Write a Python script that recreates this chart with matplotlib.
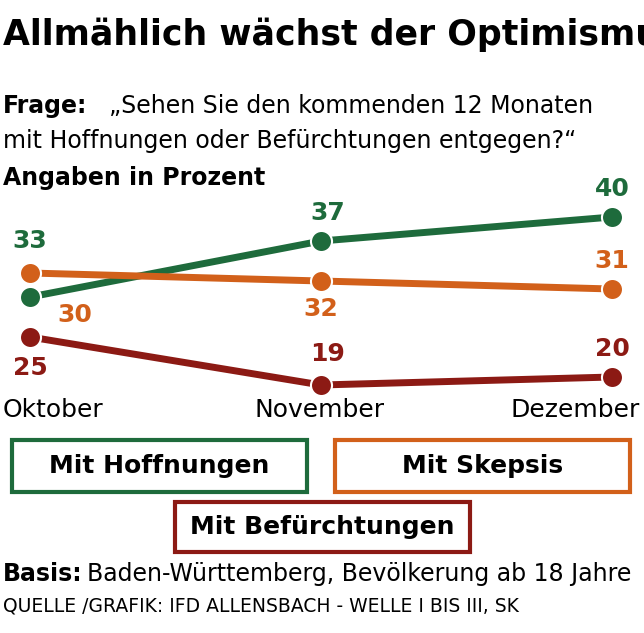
import matplotlib
matplotlib.use("Agg")
import matplotlib.pyplot as plt
from matplotlib.patches import Rectangle

months = ["Oktober", "November", "Dezember"]
hoffnung = [30, 37, 40]
skepsis = [33, 32, 31]
befuerchtung = [25, 19, 20]
hoffnung_labels = ["33", "37", "40"]
skepsis_labels = ["30", "32", "31"]
befuerchtung_labels = ["25", "19", "20"]

W, H = 644, 633
fig = plt.figure(figsize=(W/100, H/100), dpi=100)
ax = fig.add_axes([0, 1-400/H, 1, 210/H])
ax.set_xlim(-30/291, 2+32/291)
ax.set_ylim(30-103/8, 30+107/8)
ax.axis("off")

green, orange, red = "#1e6b3c", "#d2601a", "#8c1a14"
x = [0, 1, 2]
for vals, c in [(hoffnung, green), (skepsis, orange), (befuerchtung, red)]:
    ax.plot(x, vals, color=c, lw=5, zorder=1)
    ax.scatter(x, vals, s=230, color=c, edgecolor="white", linewidth=1.5, zorder=2)

fs = 18
def lab(xi, v, t, c, dx=0, dy=0):
    ax.annotate(t, (xi, v), xytext=(dx, dy), textcoords="offset points",
                ha="center", va="center", fontsize=fs, fontweight="bold", color=c)
lab(0, hoffnung[0], hoffnung_labels[0], green, 0, 40)
lab(1, hoffnung[1], hoffnung_labels[1], green, 5, 20)
lab(2, hoffnung[2], hoffnung_labels[2], green, 0, 20)
lab(0, skepsis[0], skepsis_labels[0], orange, 32, -30)
lab(1, skepsis[1], skepsis_labels[1], orange, 0, -20)
lab(2, skepsis[2], skepsis_labels[2], orange, 0, 20)
lab(0, befuerchtung[0], befuerchtung_labels[0], red, 0, -22)
lab(1, befuerchtung[1], befuerchtung_labels[1], red, 5, 22)
lab(2, befuerchtung[2], befuerchtung_labels[2], red, 0, 20)

for m, xx, ha in zip(months, [3, 320, 640], ["left", "center", "right"]):
    fig.text(xx/W, 1-410/H, m, fontsize=18, va="center", ha=ha)

fig.text(0.005, 1-35/H, "Allmählich wächst der Optimismus", fontsize=25,
         fontweight="bold", va="center")
fig.text(0.005, 1-106/H, "Frage:", fontsize=17, fontweight="bold", va="center")
fig.text(0.17, 1-106/H, "„Sehen Sie den kommenden 12 Monaten", fontsize=17, va="center")
fig.text(0.005, 1-141/H, "mit Hoffnungen oder Befürchtungen entgegen?“", fontsize=17, va="center")
fig.text(0.005, 1-178/H, "Angaben in Prozent", fontsize=17, fontweight="bold", va="center")

def box(x0, y0, x1, y1, c, t):
    fig.patches.append(Rectangle((x0/W, 1-y1/H), (x1-x0)/W, (y1-y0)/H,
                                 transform=fig.transFigure, fill=False, ec=c, lw=3))
    fig.text((x0+x1)/2/W, 1-(y0+y1)/2/H, t, fontsize=18, fontweight="bold",
             ha="center", va="center")
box(12, 440, 307, 492, green, "Mit Hoffnungen")
box(335, 440, 630, 492, orange, "Mit Skepsis")
box(175, 502, 470, 552, red, "Mit Befürchtungen")

fig.text(0.005, 1-574/H, "Basis:", fontsize=17, fontweight="bold", va="center")
fig.text(0.135, 1-574/H, "Baden-Württemberg, Bevölkerung ab 18 Jahre", fontsize=17,
         va="center")
fig.text(0.005, 1-606/H, "QUELLE /GRAFIK: IFD ALLENSBACH - WELLE I BIS III, SK",
         fontsize=13.5, va="center")
fig.savefig("out.png", dpi=100)
